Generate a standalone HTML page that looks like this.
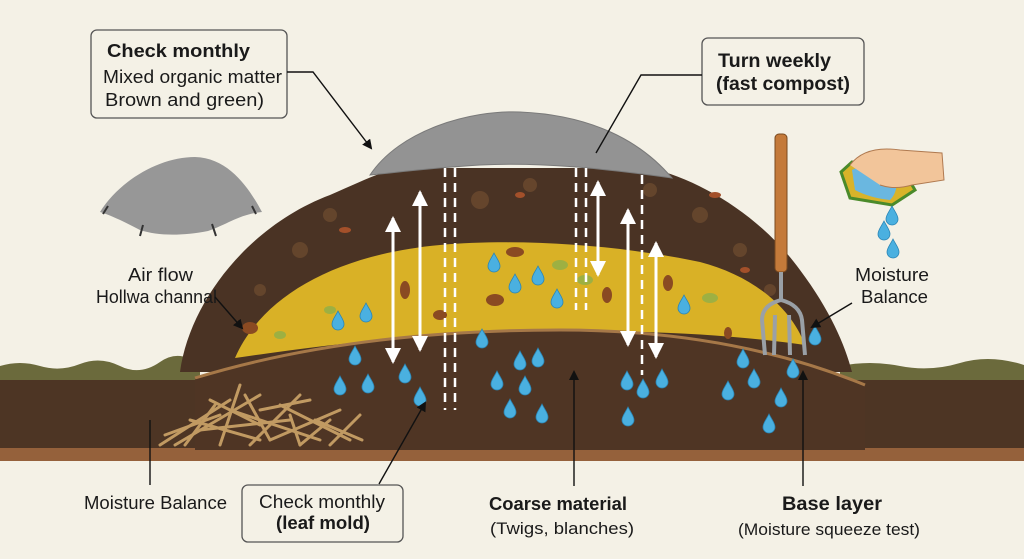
<!DOCTYPE html>
<html><head><meta charset="utf-8"><style>
html,body{margin:0;padding:0;background:#f4f1e6;}
svg{display:block;}
text{font-family:"Liberation Sans",Arial,sans-serif;fill:#1a1a1a;}
</style></head><body>
<svg width="1024" height="559" viewBox="0 0 1024 559" xmlns="http://www.w3.org/2000/svg">
<defs>
<marker id="ah" markerWidth="10" markerHeight="10" refX="8" refY="5" orient="auto" markerUnits="userSpaceOnUse"><path d="M0,0 L10,5 L0,10 z" fill="#111"/></marker>
<marker id="wa" markerWidth="18" markerHeight="16" refX="14" refY="8" orient="auto" markerUnits="userSpaceOnUse"><path d="M0,0 L16,8 L0,16 z" fill="#fff"/></marker>
<marker id="wb" markerWidth="18" markerHeight="16" refX="2" refY="8" orient="auto" markerUnits="userSpaceOnUse"><path d="M16,0 L0,8 L16,16 z" fill="#fff"/></marker>
<g id="drop"><path d="M0,-9 C3,-3 6,0 6,4 A6,6 0 0 1 -6,4 C-6,0 -3,-3 0,-9z" fill="#4ab0e0" stroke="#2a85b5" stroke-width="0.8"/></g>
</defs>
<rect width="1024" height="559" fill="#f4f1e6"/>
<path d="M0,366 Q20,360 40,366 T80,364 T120,366 T160,362 T200,366 L200,382 L0,382z" fill="#6b6a3c"/>
<path d="M840,366 Q870,360 900,366 T960,363 T1024,365 L1024,382 L840,382z" fill="#6b6a3c"/>
<rect x="0" y="380" width="1024" height="70" fill="#4d3524"/>
<rect x="0" y="448" width="1024" height="13" fill="#95613b"/>
<path d="M180,372 C190,300 250,225 330,195 C360,182 380,172 400,168 L650,168 C700,180 760,215 800,270 C830,310 845,345 852,372 z" fill="#4a3324"/>
<g fill="#6b4a2e" opacity="0.8">
<circle cx="300" cy="250" r="8"/><circle cx="330" cy="215" r="7"/><circle cx="480" cy="200" r="9"/><circle cx="530" cy="185" r="7"/><circle cx="700" cy="215" r="8"/><circle cx="740" cy="250" r="7"/><circle cx="260" cy="290" r="6"/><circle cx="650" cy="190" r="7"/><circle cx="770" cy="290" r="6"/>
</g>
<g fill="#a3502a"><ellipse cx="345" cy="230" rx="6" ry="3"/><ellipse cx="715" cy="195" rx="6" ry="3"/><ellipse cx="520" cy="195" rx="5" ry="3"/><ellipse cx="745" cy="270" rx="5" ry="3"/></g>
<path d="M235,358 C260,300 330,255 440,245 C520,238 620,245 700,262 C750,275 790,305 805,345 C700,330 580,328 450,335 C360,340 290,350 235,358z" fill="#d9b126"/>
<g fill="#8a4a22"><ellipse cx="515" cy="252" rx="9" ry="5"/><ellipse cx="405" cy="290" rx="5" ry="9"/><ellipse cx="495" cy="300" rx="9" ry="6"/><ellipse cx="607" cy="295" rx="5" ry="8"/><ellipse cx="668" cy="283" rx="5" ry="8"/><ellipse cx="440" cy="315" rx="7" ry="5"/><ellipse cx="250" cy="328" rx="8" ry="6"/><ellipse cx="728" cy="333" rx="4" ry="6"/></g>
<g fill="#8fb04a" opacity="0.8"><ellipse cx="560" cy="265" rx="8" ry="5"/><ellipse cx="585" cy="280" rx="8" ry="5"/><ellipse cx="710" cy="298" rx="8" ry="5"/><ellipse cx="330" cy="310" rx="6" ry="4"/><ellipse cx="280" cy="335" rx="6" ry="4"/></g>
<path d="M195,378 C320,340 450,330 560,330 C680,330 780,350 865,385 L865,450 L195,450z" fill="#4f3524"/>
<path d="M195,378 C320,340 450,330 560,330 C680,330 780,350 865,385" fill="none" stroke="#a67848" stroke-width="3"/>
<g stroke="#c19a62" stroke-width="3" stroke-linecap="round">
<path d="M160,445 L230,400"/><path d="M175,445 L260,395"/><path d="M200,430 L290,420"/><path d="M220,445 L240,385"/><path d="M250,445 L300,395"/><path d="M270,440 L340,410"/><path d="M300,445 L330,420"/><path d="M330,445 L360,415"/><path d="M190,420 L260,440"/><path d="M230,410 L320,440"/><path d="M280,405 L350,440"/><path d="M210,400 L260,425"/>
<path d="M165,435 L220,415"/><path d="M245,395 L270,440"/><path d="M290,415 L300,445"/><path d="M315,420 L362,440"/><path d="M185,445 L215,405"/><path d="M260,410 L310,400"/>
</g>
<path d="M370,175 C400,130 470,110 520,112 C590,115 640,140 672,178 C600,168 540,162 480,165 C430,168 400,172 370,175z" fill="#939393" stroke="#7a7a7a"/>
<path d="M100,212 C120,180 160,157 195,157 C230,158 250,190 262,212 C240,214 228,224 208,231 C182,236 158,236 140,230 C125,222 110,215 100,212z" fill="#979797"/>
<g stroke="#333" stroke-width="2"><path d="M108,206 L103,214"/><path d="M143,225 L140,236"/><path d="M212,224 L216,236"/><path d="M252,206 L256,214"/></g>
<g stroke="#fff" stroke-width="2.5" stroke-dasharray="9,6">
<path d="M445,168 V410"/><path d="M455,168 V410"/><path d="M576,168 V310"/><path d="M586,168 V310"/><path d="M642,175 V375"/>
</g>
<g stroke="#fff" stroke-width="3" marker-start="url(#wb)" marker-end="url(#wa)">
<path d="M393,218 V362"/><path d="M420,192 V350"/><path d="M598,182 V275"/><path d="M628,210 V345"/><path d="M656,243 V357"/>
</g>
<g>
<use href="#drop" x="355" y="355"/><use href="#drop" x="340" y="385"/><use href="#drop" x="368" y="383"/><use href="#drop" x="405" y="373"/><use href="#drop" x="420" y="396"/><use href="#drop" x="338" y="320"/><use href="#drop" x="366" y="312"/><use href="#drop" x="482" y="338"/><use href="#drop" x="497" y="380"/><use href="#drop" x="520" y="360"/><use href="#drop" x="538" y="357"/><use href="#drop" x="525" y="385"/><use href="#drop" x="510" y="408"/><use href="#drop" x="542" y="413"/><use href="#drop" x="494" y="262"/><use href="#drop" x="515" y="283"/><use href="#drop" x="557" y="298"/><use href="#drop" x="538" y="275"/><use href="#drop" x="627" y="380"/><use href="#drop" x="643" y="388"/><use href="#drop" x="662" y="378"/><use href="#drop" x="628" y="416"/><use href="#drop" x="684" y="304"/><use href="#drop" x="728" y="390"/><use href="#drop" x="743" y="358"/><use href="#drop" x="754" y="378"/><use href="#drop" x="781" y="397"/><use href="#drop" x="769" y="423"/><use href="#drop" x="815" y="335"/><use href="#drop" x="793" y="368"/>
</g>
<rect x="775" y="134" width="12" height="138" rx="4" fill="#c47a3a" stroke="#7a4a20"/>
<path d="M781,272 L781,300 M765,355 L762,320 Q762,305 781,300 Q800,305 802,320 L805,355 M774,355 L775,315 M790,355 L789,315" fill="none" stroke="#9aa0a6" stroke-width="4"/>
<path d="M841,172 L852,162 L905,173 L915,190 L892,205 L850,198z" fill="#d8b32a" stroke="#4a8a2a" stroke-width="3"/>
<path d="M852,170 Q870,160 895,170 Q900,190 890,200 Q870,198 855,190z" fill="#6ab7e0"/>
<path d="M850,165 Q865,145 900,150 L942,153 L944,180 L912,185 Q895,190 880,185" fill="#f2c59a" stroke="#b07a50"/>
<use href="#drop" x="892" y="215"/><use href="#drop" x="884" y="230"/><use href="#drop" x="893" y="248"/>
<rect x="91" y="30" width="196" height="88" rx="6" fill="#f4f1e6" stroke="#555" stroke-width="1.3"/>
<text x="107" y="57" font-size="18" font-weight="bold" textLength="143" lengthAdjust="spacingAndGlyphs">Check monthly</text>
<text x="103" y="83" font-size="18" textLength="179" lengthAdjust="spacingAndGlyphs">Mixed organic matter</text>
<text x="105" y="106" font-size="18" textLength="159" lengthAdjust="spacingAndGlyphs">Brown and green)</text>
<rect x="702" y="38" width="162" height="67" rx="6" fill="#f4f1e6" stroke="#555" stroke-width="1.3"/>
<text x="718" y="67" font-size="19" font-weight="bold" textLength="113" lengthAdjust="spacingAndGlyphs">Turn weekly</text>
<text x="716" y="90" font-size="19" font-weight="bold" textLength="134" lengthAdjust="spacingAndGlyphs">(fast compost)</text>
<rect x="242" y="485" width="161" height="57" rx="6" fill="#f4f1e6" stroke="#555" stroke-width="1.3"/>
<text x="259" y="508" font-size="18" textLength="126" lengthAdjust="spacingAndGlyphs">Check monthly</text>
<text x="276" y="529" font-size="18" font-weight="bold" textLength="94" lengthAdjust="spacingAndGlyphs">(leaf mold)</text>
<text x="128" y="281" font-size="18" textLength="65" lengthAdjust="spacingAndGlyphs">Air flow</text>
<text x="96" y="303" font-size="18" textLength="121" lengthAdjust="spacingAndGlyphs">Hollwa channal</text>
<text x="855" y="281" font-size="18" textLength="74" lengthAdjust="spacingAndGlyphs">Moisture</text>
<text x="861" y="303" font-size="18" textLength="67" lengthAdjust="spacingAndGlyphs">Balance</text>
<text x="84" y="509" font-size="18" textLength="143" lengthAdjust="spacingAndGlyphs">Moisture Balance</text>
<text x="489" y="510" font-size="18" font-weight="bold" textLength="138" lengthAdjust="spacingAndGlyphs">Coarse material</text>
<text x="490" y="534" font-size="17" textLength="144" lengthAdjust="spacingAndGlyphs">(Twigs, blanches)</text>
<text x="782" y="510" font-size="19" font-weight="bold" textLength="100" lengthAdjust="spacingAndGlyphs">Base layer</text>
<text x="738" y="535" font-size="17" textLength="182" lengthAdjust="spacingAndGlyphs">(Moisture squeeze test)</text>
<g stroke="#111" stroke-width="1.4" fill="none">
<path d="M287,72 L313,72 L371,148" marker-end="url(#ah)"/>
<path d="M702,75 L641,75 L596,153"/>
<path d="M215,297 L242,328" marker-end="url(#ah)"/>
<path d="M852,303 L812,327" marker-end="url(#ah)"/>
<path d="M150,420 V485"/>
<path d="M379,484 L425,403" marker-end="url(#ah)"/>
<path d="M574,486 V372" marker-end="url(#ah)"/>
<path d="M803,486 V372" marker-end="url(#ah)"/>
</g>
</svg>
</body></html>
